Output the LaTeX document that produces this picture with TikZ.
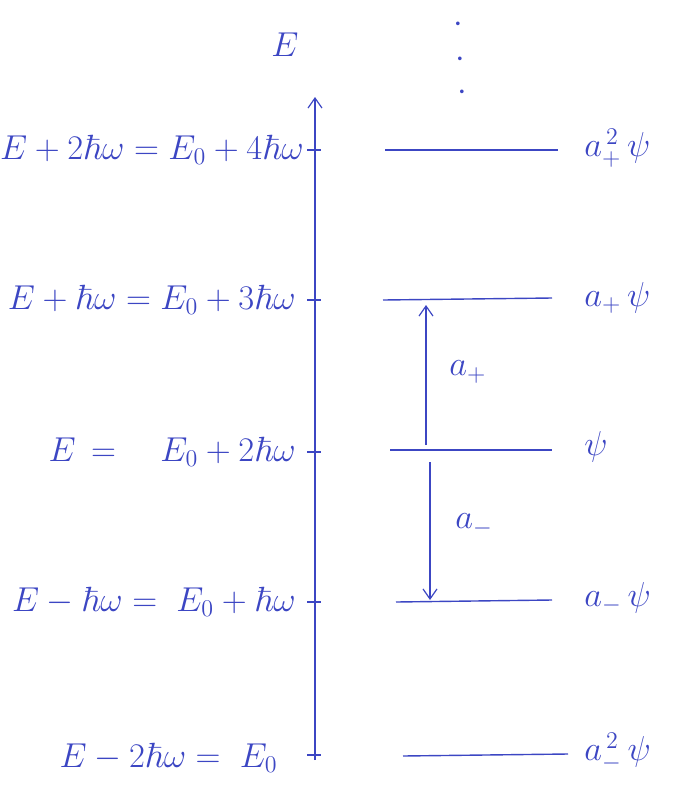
\documentclass[tikz,border=0pt]{standalone}
\usepackage{amsmath,amssymb}
\usepackage{tikz}
\usetikzlibrary{arrows.meta,positioning}
\usepackage{xcolor}
\definecolor{penblue}{RGB}{60,70,195}

\begin{document}
\begin{tikzpicture}[
    x=0.5pt, y=-0.5pt,
    every node/.style={text=penblue, font=\fontsize{17.5}{21}\selectfont},
    level/.style={draw=penblue, line width=0.7pt},
    tick/.style={draw=penblue, line width=0.6pt},
    energy/.style={anchor=east, inner sep=2pt},
    state/.style={anchor=west, inner sep=2pt},
    arrow/.style={->, >={Straight Barb[length=5pt,width=7pt]}, draw=penblue, line width=0.6pt}
]
    \useasboundingbox (0,0) rectangle (684,804);

    % energy axis
    \coordinate (axbot) at (315,760);
    \coordinate (axtop) at (315,97);
    \draw[arrow] (axbot) -- (axtop);
    \node (elabel) at (285,45) {$E$};

    % dots above the ladder
    \node[inner sep=0pt] (dotA) at (458,25) {$\cdot$};
    \node[inner sep=0pt] (dotB) at (460,60) {$\cdot$};
    \node[inner sep=0pt] (dotC) at (462,93) {$\cdot$};

    % ticks on the axis
    \coordinate (t4) at (315,150);
    \coordinate (t3) at (315,300);
    \coordinate (t2) at (315,452);
    \coordinate (t1) at (315,602);
    \coordinate (t0) at (315,755);
    \draw[tick] ([xshift=-4]t4) -- ([xshift=3]t4);
    \draw[tick] ([xshift=-4]t3) -- ([xshift=3]t3);
    \draw[tick] ([xshift=-4]t2) -- ([xshift=3]t2);
    \draw[tick] ([xshift=-4]t1) -- ([xshift=3]t1);
    \draw[tick] ([xshift=-4]t0) -- ([xshift=3]t0);

    % energy labels
    \node[energy] (e4) at (308,150) {$E + 2\hbar\omega = E_0 + 4\hbar\omega$};
    \node[energy] (e3) at (300,300) {$E + \hbar\omega = E_0 + 3\hbar\omega$};
    \node[energy] (e2) at (300,452) {$E \,=\quad E_0 + 2\hbar\omega$};
    \node[energy] (e1) at (300,602) {$E - \hbar\omega = \;E_0 + \hbar\omega$};
    \node[energy] (e0) at (282,758) {$E - 2\hbar\omega = \;E_0$};

    % levels
    \coordinate (l4a) at (385,150); \coordinate (l4b) at (558,150);
    \coordinate (l3a) at (383,300); \coordinate (l3b) at (552,298);
    \coordinate (l2a) at (390,450); \coordinate (l2b) at (552,450);
    \coordinate (l1a) at (396,602); \coordinate (l1b) at (552,600);
    \coordinate (l0a) at (403,756); \coordinate (l0b) at (568,754);
    \draw[level] (l4a) -- (l4b);
    \draw[level] (l3a) -- (l3b);
    \draw[level] (l2a) -- (l2b);
    \draw[level] (l1a) -- (l1b);
    \draw[level] (l0a) -- (l0b);

    % states
    \node[state] (s4) at (580,148) {$a_+^{\,2}\,\psi$};
    \node[state] (s3) at (580,298) {$a_+\,\psi$};
    \node[state] (s2) at (580,447) {$\psi$};
    \node[state] (s1) at (580,598) {$a_-\,\psi$};
    \node[state] (s0) at (580,752) {$a_-^{\,2}\,\psi$};

    % ladder operators
    \coordinate (upfrom) at (426,445);
    \coordinate (upto) at (426,305);
    \coordinate (downfrom) at (430,462);
    \coordinate (downto) at (430,600);
    \draw[arrow] (upfrom) -- (upto);
    \draw[arrow] (downfrom) -- (downto);
    \node (aplus) at (468,372) {$a_+$};
    \node (aminus) at (474,525) {$a_-$};
\end{tikzpicture}
\end{document}
